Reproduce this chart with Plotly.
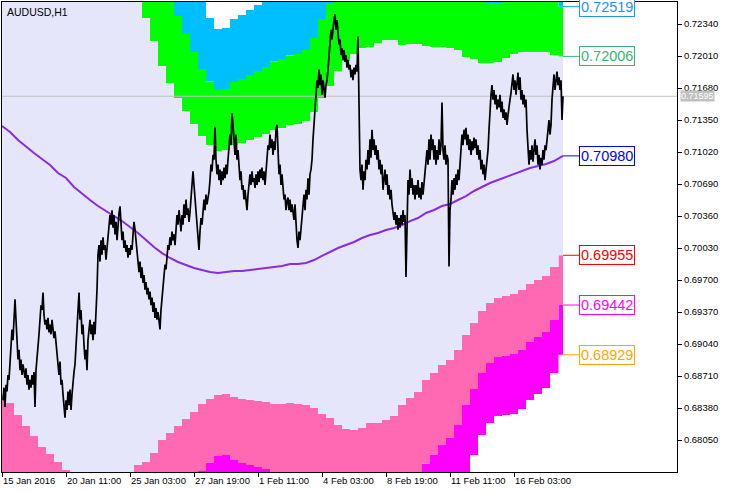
import plotly.graph_objects as go

# ---------------- data ----------------
symbol_title = "AUDUSD,H1"

time_tick_bars = [0, 64, 128, 192, 256, 320, 384, 448, 512]
time_tick_labels = ["15 Jan 2016", "20 Jan 11:00", "25 Jan 03:00", "27 Jan 19:00",
                    "1 Feb 11:00", "4 Feb 03:00", "8 Feb 19:00", "11 Feb 11:00",
                    "16 Feb 03:00"]

price_ticks = [0.68050, 0.68380, 0.68710, 0.69040, 0.69370, 0.69700, 0.70030,
               0.70360, 0.70690, 0.71020, 0.71350, 0.71680, 0.72010, 0.72340]

# indicator bands (sampled every 8 H1 bars, last sample = last bar)
band_bar = list(range(0, 553, 8)) + [561]

mid_line = [0.71288, 0.71226, 0.71144, 0.71072, 0.71010, 0.70948, 0.70886, 0.70803, 0.70752, 0.70659,
            0.70587, 0.70525, 0.70463, 0.70412, 0.70360, 0.70308, 0.70247, 0.70185, 0.70113, 0.70040,
            0.69978, 0.69927, 0.69886, 0.69855, 0.69824, 0.69803, 0.69783, 0.69772, 0.69783, 0.69793,
            0.69793, 0.69803, 0.69813, 0.69824, 0.69834, 0.69844, 0.69865, 0.69865, 0.69875, 0.69906,
            0.69948, 0.69989, 0.70030, 0.70061, 0.70092, 0.70133, 0.70164, 0.70185, 0.70216, 0.70236,
            0.70267, 0.70308, 0.70339, 0.70391, 0.70422, 0.70463, 0.70484, 0.70525, 0.70566, 0.70618,
            0.70659, 0.70700, 0.70731, 0.70762, 0.70793, 0.70824, 0.70855, 0.70876, 0.70896, 0.70927,
            0.70980]

upper3 = [0.76836, 0.76815, 0.76816, 0.76826, 0.76847, 0.76888, 0.76846, 0.76763, 0.76774, 0.76764,
          0.76733, 0.76671, 0.76568, 0.76352, 0.76011, 0.75670, 0.75321, 0.74970, 0.74692, 0.74289,
          0.73835, 0.73536, 0.73268, 0.73031, 0.72794, 0.72567, 0.72402, 0.72288, 0.72299, 0.72392,
          0.72433, 0.72484, 0.72535, 0.72588, 0.72660, 0.72690, 0.72732, 0.72753, 0.72804, 0.72958,
          0.73207, 0.73413, 0.73681, 0.73856, 0.73970, 0.74052, 0.74042, 0.74104, 0.74135, 0.74114,
          0.73979, 0.73959, 0.73928, 0.73835, 0.73784, 0.73742, 0.73702, 0.73619, 0.73433, 0.73340,
          0.73217, 0.73175, 0.73165, 0.73216, 0.73268, 0.73278, 0.73247, 0.73227, 0.73206, 0.73113,
          0.73032]

upper2 = [0.75449, 0.75418, 0.75398, 0.75388, 0.75388, 0.75403, 0.75356, 0.75273, 0.75269, 0.75238,
          0.75197, 0.75135, 0.75042, 0.74867, 0.74598, 0.74330, 0.74052, 0.73774, 0.73547, 0.73227,
          0.72871, 0.72634, 0.72423, 0.72237, 0.72052, 0.71876, 0.71747, 0.71659, 0.71670, 0.71742,
          0.71773, 0.71814, 0.71855, 0.71897, 0.71953, 0.71979, 0.72015, 0.72031, 0.72072, 0.72195,
          0.72392, 0.72557, 0.72768, 0.72907, 0.73000, 0.73072, 0.73072, 0.73124, 0.73155, 0.73144,
          0.73051, 0.73046, 0.73031, 0.72974, 0.72944, 0.72922, 0.72897, 0.72845, 0.72716, 0.72660,
          0.72577, 0.72556, 0.72556, 0.72603, 0.72649, 0.72665, 0.72649, 0.72639, 0.72629, 0.72567,
          0.72519]

upper1 = [0.74062, 0.74021, 0.73980, 0.73949, 0.73928, 0.73918, 0.73866, 0.73783, 0.73763, 0.73712,
          0.73660, 0.73598, 0.73516, 0.73382, 0.73186, 0.72989, 0.72784, 0.72578, 0.72402, 0.72164,
          0.71906, 0.71732, 0.71577, 0.71443, 0.71309, 0.71185, 0.71093, 0.71030, 0.71041, 0.71092,
          0.71113, 0.71144, 0.71174, 0.71206, 0.71247, 0.71267, 0.71298, 0.71309, 0.71339, 0.71432,
          0.71577, 0.71701, 0.71855, 0.71959, 0.72031, 0.72092, 0.72103, 0.72144, 0.72175, 0.72175,
          0.72123, 0.72133, 0.72133, 0.72113, 0.72103, 0.72103, 0.72093, 0.72072, 0.71999, 0.71979,
          0.71938, 0.71938, 0.71948, 0.71989, 0.72031, 0.72051, 0.72051, 0.72052, 0.72051, 0.72020,
          0.72006]

lower1 = [0.68514, 0.68431, 0.68308, 0.68195, 0.68092, 0.67978, 0.67906, 0.67823, 0.67741, 0.67606,
          0.67514, 0.67452, 0.67410, 0.67442, 0.67534, 0.67627, 0.67710, 0.67792, 0.67824, 0.67916,
          0.68050, 0.68122, 0.68195, 0.68267, 0.68339, 0.68421, 0.68473, 0.68514, 0.68525, 0.68494,
          0.68473, 0.68462, 0.68452, 0.68442, 0.68421, 0.68421, 0.68432, 0.68421, 0.68411, 0.68380,
          0.68319, 0.68277, 0.68205, 0.68163, 0.68153, 0.68174, 0.68225, 0.68226, 0.68257, 0.68297,
          0.68411, 0.68483, 0.68545, 0.68669, 0.68741, 0.68823, 0.68875, 0.68978, 0.69133, 0.69257,
          0.69380, 0.69462, 0.69514, 0.69535, 0.69555, 0.69597, 0.69659, 0.69700, 0.69741, 0.69834,
          0.69955]

lower2 = [0.67127, 0.67034, 0.66890, 0.66756, 0.66632, 0.66493, 0.66416, 0.66333, 0.66235, 0.66080,
          0.65977, 0.65915, 0.65884, 0.65957, 0.66122, 0.66286, 0.66442, 0.66596, 0.66679, 0.66853,
          0.67085, 0.67220, 0.67349, 0.67473, 0.67597, 0.67730, 0.67819, 0.67885, 0.67896, 0.67844,
          0.67813, 0.67792, 0.67771, 0.67751, 0.67715, 0.67709, 0.67715, 0.67699, 0.67678, 0.67617,
          0.67504, 0.67421, 0.67292, 0.67215, 0.67184, 0.67194, 0.67256, 0.67246, 0.67277, 0.67328,
          0.67483, 0.67570, 0.67647, 0.67808, 0.67901, 0.68004, 0.68071, 0.68205, 0.68416, 0.68576,
          0.68741, 0.68844, 0.68906, 0.68921, 0.68937, 0.68983, 0.69061, 0.69113, 0.69164, 0.69287,
          0.69442]

lower3 = [0.65740, 0.65637, 0.65472, 0.65318, 0.65173, 0.65008, 0.64926, 0.64843, 0.64730, 0.64554,
          0.64441, 0.64379, 0.64358, 0.64472, 0.64709, 0.64946, 0.65173, 0.65400, 0.65534, 0.65791,
          0.66121, 0.66318, 0.66504, 0.66679, 0.66854, 0.67039, 0.67164, 0.67256, 0.67267, 0.67194,
          0.67153, 0.67122, 0.67091, 0.67060, 0.67008, 0.66998, 0.66998, 0.66977, 0.66946, 0.66854,
          0.66689, 0.66565, 0.66379, 0.66266, 0.66214, 0.66214, 0.66286, 0.66266, 0.66297, 0.66358,
          0.66555, 0.66657, 0.66750, 0.66947, 0.67060, 0.67184, 0.67266, 0.67431, 0.67699, 0.67896,
          0.68101, 0.68225, 0.68297, 0.68308, 0.68318, 0.68370, 0.68463, 0.68525, 0.68586, 0.68741,
          0.68929]

# AUDUSD H1 price path (one value per bar)
price = [
    0.6846, 0.6859, 0.6839, 0.6862, 0.6855, 0.6872, 0.6867, 0.6886, 0.6903, 0.6919,
    0.6908, 0.6927, 0.6950, 0.6929, 0.6914, 0.6888, 0.6898, 0.6877, 0.6888, 0.6872,
    0.6883, 0.6875, 0.6869, 0.6879, 0.6862, 0.6872, 0.6857, 0.6867, 0.6859, 0.6872,
    0.6862, 0.6875, 0.6839, 0.6877, 0.6888, 0.6898, 0.6914, 0.6929, 0.6944, 0.6939,
    0.6957, 0.6934, 0.6924, 0.6929, 0.6919, 0.6931, 0.6916, 0.6924, 0.6914, 0.6929,
    0.6919, 0.6910, 0.6917, 0.6903, 0.6898, 0.6883, 0.6872, 0.6886, 0.6862, 0.6867,
    0.6852, 0.6841, 0.6828, 0.6846, 0.6836, 0.6855, 0.6841, 0.6857, 0.6836, 0.6852,
    0.6867, 0.6875, 0.6883, 0.6903, 0.6919, 0.6950, 0.6957, 0.6929, 0.6939, 0.6914,
    0.6924, 0.6903, 0.6888, 0.6898, 0.6877, 0.6908, 0.6919, 0.6929, 0.6914, 0.6924,
    0.6908, 0.6927, 0.6914, 0.6931, 0.6960, 0.6996, 0.7006, 0.6989, 0.7011, 0.6996,
    0.7014, 0.7001, 0.7006, 0.6991, 0.7003, 0.7011, 0.7022, 0.7037, 0.7027, 0.7042,
    0.7024, 0.7037, 0.7017, 0.7030, 0.7011, 0.7027, 0.7039, 0.7046, 0.7027, 0.7011,
    0.7020, 0.7003, 0.7011, 0.6999, 0.7006, 0.6993, 0.7003, 0.6996, 0.7006, 0.7001,
    0.7017, 0.7030, 0.7022, 0.7011, 0.6993, 0.6986, 0.6978, 0.6989, 0.6972, 0.6983,
    0.6967, 0.6975, 0.6960, 0.6968, 0.6955, 0.6962, 0.6950, 0.6958, 0.6944, 0.6952,
    0.6937, 0.6947, 0.6931, 0.6941, 0.6929, 0.6937, 0.6924, 0.6919, 0.6939, 0.6950,
    0.6965, 0.6975, 0.6986, 0.6981, 0.6996, 0.7006, 0.7001, 0.7014, 0.7006, 0.7020,
    0.7011, 0.7017, 0.7006, 0.7022, 0.7037, 0.7027, 0.7042, 0.7032, 0.7020, 0.7037,
    0.7027, 0.7048, 0.7034, 0.7053, 0.7037, 0.7044, 0.7030, 0.7040, 0.7053, 0.7068,
    0.7082, 0.7068, 0.7053, 0.7040, 0.7027, 0.7011, 0.7001, 0.7020, 0.7034, 0.7027,
    0.7042, 0.7053, 0.7042, 0.7058, 0.7048, 0.7053, 0.7061, 0.7073, 0.7089, 0.7082,
    0.7099, 0.7094, 0.7128, 0.7094, 0.7079, 0.7089, 0.7073, 0.7084, 0.7068, 0.7082,
    0.7073, 0.7086, 0.7075, 0.7089, 0.7079, 0.7094, 0.7104, 0.7120, 0.7109, 0.7142,
    0.7130, 0.7109, 0.7099, 0.7120, 0.7094, 0.7104, 0.7084, 0.7073, 0.7082, 0.7063,
    0.7068, 0.7053, 0.7063, 0.7048, 0.7042, 0.7058, 0.7068, 0.7079, 0.7068, 0.7082,
    0.7071, 0.7075, 0.7065, 0.7079, 0.7068, 0.7082, 0.7071, 0.7084, 0.7075, 0.7086,
    0.7073, 0.7082, 0.7068, 0.7084, 0.7096, 0.7109, 0.7104, 0.7120, 0.7106, 0.7115,
    0.7099, 0.7113, 0.7104, 0.7125, 0.7130, 0.7094, 0.7079, 0.7089, 0.7068, 0.7079,
    0.7063, 0.7053, 0.7058, 0.7042, 0.7051, 0.7055, 0.7042, 0.7053, 0.7040, 0.7048,
    0.7040, 0.7032, 0.7048, 0.7022, 0.7011, 0.7003, 0.7020, 0.7011, 0.7024, 0.7037,
    0.7048, 0.7058, 0.7042, 0.7063, 0.7053, 0.7075, 0.7058, 0.7079, 0.7084, 0.7094,
    0.7115, 0.7135, 0.7146, 0.7161, 0.7176, 0.7168, 0.7187, 0.7171, 0.7182, 0.7161,
    0.7176, 0.7166, 0.7158, 0.7171, 0.7176, 0.7187, 0.7202, 0.7213, 0.7228, 0.7218,
    0.7233, 0.7238, 0.7244, 0.7228, 0.7238, 0.7223, 0.7213, 0.7218, 0.7202, 0.7209,
    0.7197, 0.7207, 0.7195, 0.7202, 0.7189, 0.7197, 0.7187, 0.7192, 0.7179, 0.7187,
    0.7176, 0.7189, 0.7182, 0.7192, 0.7185, 0.7221, 0.7156, 0.7084, 0.7073, 0.7089,
    0.7063, 0.7082, 0.7073, 0.7094, 0.7084, 0.7104, 0.7089, 0.7115, 0.7096, 0.7125,
    0.7104, 0.7115, 0.7099, 0.7109, 0.7094, 0.7104, 0.7084, 0.7094, 0.7079, 0.7089,
    0.7063, 0.7073, 0.7084, 0.7068, 0.7079, 0.7058, 0.7068, 0.7053, 0.7063, 0.7048,
    0.7042, 0.7032, 0.7040, 0.7027, 0.7037, 0.7022, 0.7034, 0.7024, 0.7037, 0.7027,
    0.7042, 0.7030, 0.7037, 0.6973, 0.7022, 0.7073, 0.7058, 0.7084, 0.7065, 0.7075,
    0.7058, 0.7068, 0.7053, 0.7068, 0.7058, 0.7073, 0.7055, 0.7065, 0.7053, 0.7071,
    0.7058, 0.7068, 0.7079, 0.7094, 0.7104, 0.7089, 0.7115, 0.7094, 0.7120, 0.7104,
    0.7115, 0.7094, 0.7109, 0.7089, 0.7104, 0.7094, 0.7115, 0.7099, 0.7109, 0.7153,
    0.7104, 0.7094, 0.7109, 0.7089, 0.7099, 0.7094, 0.6984, 0.7042, 0.7053, 0.7073,
    0.7058, 0.7075, 0.7063, 0.7079, 0.7068, 0.7084, 0.7073, 0.7089, 0.7104, 0.7120,
    0.7109, 0.7125, 0.7115, 0.7127, 0.7109, 0.7120, 0.7104, 0.7115, 0.7099, 0.7113,
    0.7104, 0.7117, 0.7106, 0.7115, 0.7099, 0.7109, 0.7094, 0.7104, 0.7084, 0.7094,
    0.7079, 0.7089, 0.7073, 0.7084, 0.7094, 0.7104, 0.7125, 0.7146, 0.7161, 0.7171,
    0.7156, 0.7166, 0.7151, 0.7161, 0.7146, 0.7156, 0.7148, 0.7161, 0.7143, 0.7154,
    0.7137, 0.7146, 0.7135, 0.7143, 0.7130, 0.7140, 0.7146, 0.7156, 0.7163, 0.7171,
    0.7182, 0.7166, 0.7176, 0.7161, 0.7171, 0.7184, 0.7166, 0.7179, 0.7156, 0.7166,
    0.7151, 0.7161, 0.7148, 0.7156, 0.7125, 0.7099, 0.7089, 0.7104, 0.7094, 0.7109,
    0.7092, 0.7104, 0.7115, 0.7099, 0.7109, 0.7089, 0.7099, 0.7084, 0.7096, 0.7089,
    0.7104, 0.7094, 0.7109, 0.7104, 0.7115, 0.7125, 0.7135, 0.7120, 0.7130, 0.7156,
    0.7171, 0.7182, 0.7166, 0.7176, 0.7185, 0.7171, 0.7179, 0.7166, 0.7176, 0.7135,
    0.71595,
]
price_bar = list(range(1, len(price) + 1))

# ---------------- styling ----------------
X_RANGE = [0, 675]
Y_RANGE = [0.677201, 0.725669]
LABEL_BAR = 577
FONT = "Liberation Sans, Arial, sans-serif"

fig = go.Figure()


def band_trace(values, fill, color):
    return go.Scatter(x=band_bar, y=values, mode="lines",
                      line=dict(width=0, shape="hvh"),
                      fill=fill, fillcolor=color,
                      hoverinfo="skip", showlegend=False)


fig.add_trace(band_trace(lower3, None, None))
fig.add_trace(band_trace(lower2, "tonexty", "#FF00FF"))
fig.add_trace(band_trace(lower1, "tonexty", "#FF69B4"))
fig.add_trace(band_trace(upper1, "tonexty", "#E6E6FA"))
fig.add_trace(band_trace(upper2, "tonexty", "#00FF00"))
fig.add_trace(band_trace(upper3, "tonexty", "#00BFFF"))

# middle line
fig.add_trace(go.Scatter(x=band_bar, y=mid_line, mode="lines",
                         line=dict(color="#8A2BE2", width=2),
                         hoverinfo="skip", showlegend=False))

# bid line
fig.add_trace(go.Scatter(x=X_RANGE, y=[price[-1], price[-1]], mode="lines",
                         line=dict(color="#C0C0C0", width=1),
                         hoverinfo="skip", showlegend=False))

# price
fig.add_trace(go.Scatter(x=price_bar, y=price, mode="lines",
                         line=dict(color="black", width=1.7),
                         hoverinfo="skip", showlegend=False))

# level labels with connectors
levels = [
    (upper2[-1], "#1E90FF"),
    (upper1[-1], "#3CB371"),
    (mid_line[-1], "#0000FF"),
    (lower1[-1], "#FF0000"),
    (lower2[-1], "#FF00FF"),
    (lower3[-1], "#FFA500"),
]
annotations = []
for val, col in levels:
    fig.add_trace(go.Scatter(x=[band_bar[-1], LABEL_BAR], y=[val, val], mode="lines",
                             line=dict(color=col, width=1),
                             hoverinfo="skip", showlegend=False))
    annotations.append(dict(x=LABEL_BAR, y=val, xref="x", yref="y",
                            text=f"{val:.5f}", showarrow=False,
                            xanchor="left", yanchor="middle",
                            font=dict(family=FONT, size=14.5, color=col),
                            bgcolor="white", bordercolor=col, borderwidth=1,
                            borderpad=1))

# current price tag on the axis
annotations.append(dict(x=1, y=price[-1], xref="paper", yref="y",
                        text=f"{price[-1]:.5f}", showarrow=False,
                        xanchor="left", yanchor="middle", xshift=3,
                        font=dict(family=FONT, size=9, color="white"),
                        bgcolor="#C0C0C0", borderpad=0))

# title
annotations.append(dict(x=0, y=1, xref="paper", yref="paper",
                        text=symbol_title, showarrow=False,
                        xanchor="left", yanchor="top", xshift=3, yshift=-2,
                        font=dict(family=FONT, size=10.5, color="black")))

fig.update_layout(
    width=729, height=492,
    margin=dict(l=2, r=52, t=2, b=20, autoexpand=False),
    paper_bgcolor="white", plot_bgcolor="white",
    showlegend=False,
    font=dict(family=FONT, size=9.5, color="black"),
    annotations=annotations,
)
fig.update_xaxes(range=X_RANGE, showgrid=False, zeroline=False, automargin=False,
                 showline=True, linecolor="black", linewidth=1, mirror=True,
                 ticks="outside", ticklen=4, tickcolor="black",
                 tickvals=time_tick_bars, ticktext=time_tick_labels,
                 ticklabelposition="outside right", tickangle=0,
                 tickfont=dict(family=FONT, size=9.5, color="black"))
fig.update_yaxes(range=Y_RANGE, side="right", showgrid=False, zeroline=False, automargin=False,
                 showline=True, linecolor="black", linewidth=1, mirror=True,
                 ticks="outside", ticklen=4, tickcolor="black",
                 tickvals=price_ticks, ticktext=[f"{v:.5f}" for v in price_ticks],
                 tickfont=dict(family=FONT, size=9.5, color="black"))

fig.write_html("out.html",
               config={"displayModeBar": False},
               post_script="document.body.style.margin='0';document.body.style.padding='0';")
